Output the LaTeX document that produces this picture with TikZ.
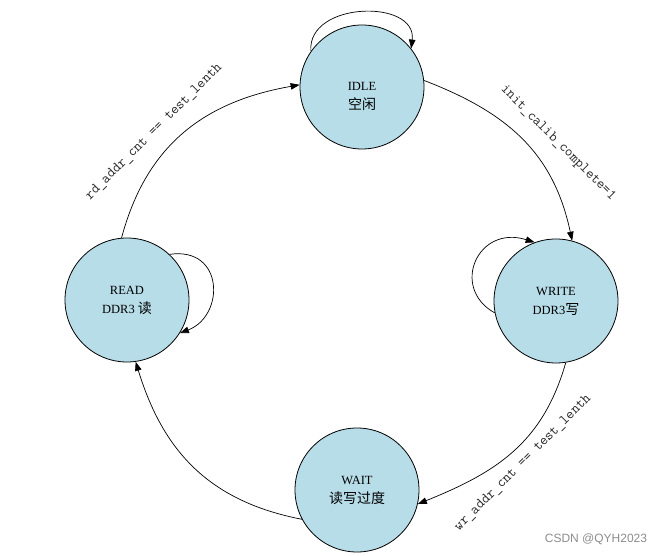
\documentclass[tikz,border=0pt]{standalone}
\usepackage{fontspec}
\setmainfont{Liberation Serif}
\newfontfamily\cjk{Noto Sans CJK SC}
\newfontfamily\wmfont{Liberation Sans}
\usetikzlibrary{arrows.meta}
\definecolor{stfill}{RGB}{183,221,232}
\begin{document}
\begin{tikzpicture}[x=1pt,y=1pt,
  state/.style={circle,draw=black,line width=0.8pt,fill=stfill,minimum size=124pt,inner sep=0pt,align=center,font=\fontsize{12.5}{19}\selectfont},
  txt/.style={align=center,inner sep=0pt,font=\fontsize{12.5}{19}\selectfont},
  edge/.style={line width=0.7pt,-{Triangle[length=9pt,width=6.5pt]}},
  lbl/.style={font=\ttfamily\fontsize{14.5}{16}\selectfont,text=black!85,inner sep=0pt}]
\useasboundingbox (0,0) rectangle (664,556);
\node[state] (idle)  at (362,469) {};
\node[txt] (idletxt) at ([yshift=-9pt]idle.center) {IDLE\\{\cjk\fontsize{14}{19}\selectfont 空闲}};
\node[state] (write) at (556,255) {WRITE\\DDR3{\cjk\fontsize{14}{19}\selectfont 写}};
\node[state] (read)  at (127,256) {READ\\DDR3 {\cjk\fontsize{14}{19}\selectfont 读}};
\node[state] (wait)  at (357,66)  {WAIT\\{\cjk\fontsize{14}{19}\selectfont 读写过度}};
% main transitions
\draw[edge] (idle.6) to[out=-21,in=102,looseness=1.05] (write.75);
\draw[edge] (write.-81) to[out=-106,in=22,looseness=1.05] (wait.-13);
\draw[edge] (wait.-152) to[out=169,in=-73,looseness=1.05] (read.-82);
\draw[edge] (read.95) to[out=75,in=190,looseness=1.05] (idle.178);
% self loops
\draw[edge] (idle.145) .. controls +(-4,50) and +(6,50) .. (idle.38);
\draw[edge] (write.191) .. controls +(-45,25) and +(-57,18) .. (write.110);
\draw[edge] (read.47) .. controls +(55,8) and +(45,17) .. (read.-32);
% labels
\node[lbl,rotate=-45] (l1) at (558,413) {init\_calib\_complete=1};
\node[lbl,rotate=45]  (l2) at (154,424) {rd\_addr\_cnt == test\_lenth};
\node[lbl,rotate=45]  (l3) at (523,93)  {wr\_addr\_cnt == test\_lenth};
\node[font=\wmfont\fontsize{12}{14}\selectfont,text=black!45,inner sep=0pt] (wm) at (596,17) {CSDN @QYH2023};
\end{tikzpicture}
\end{document}
